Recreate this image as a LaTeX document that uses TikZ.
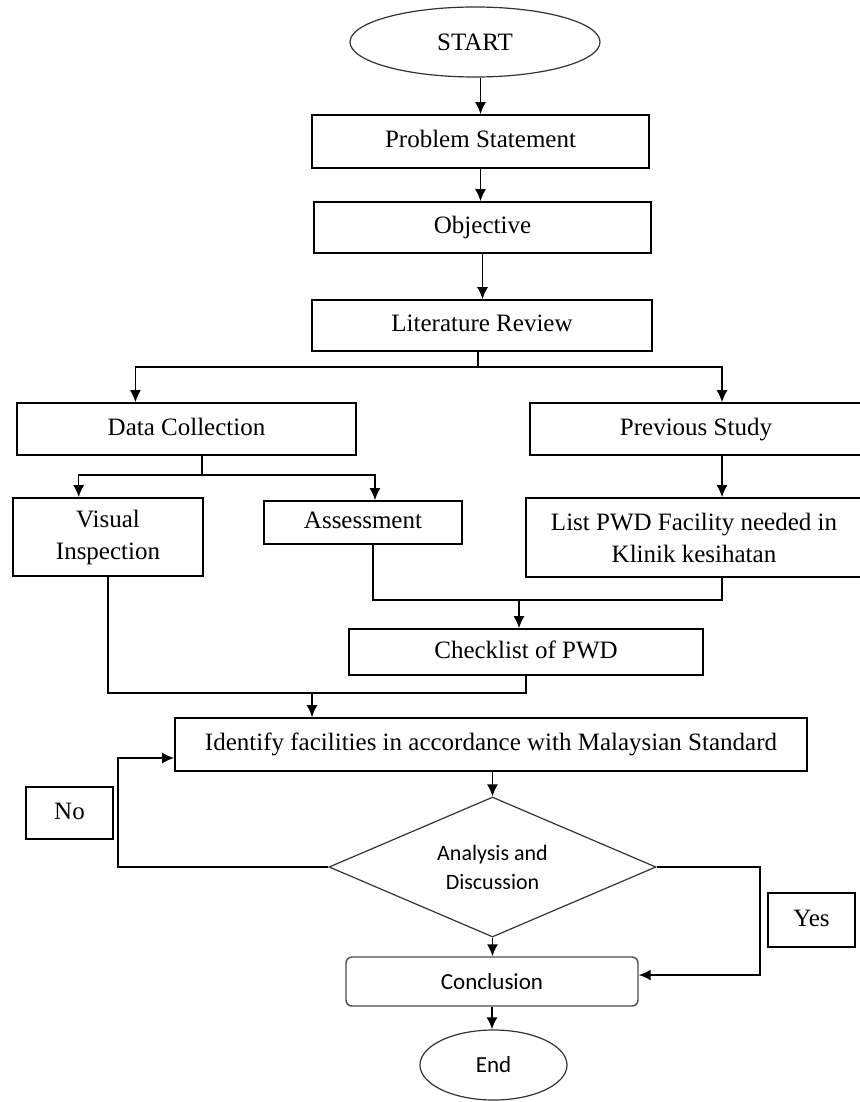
\documentclass[tikz,border=0pt]{standalone}
\usepackage{fontspec}
\setmainfont{Liberation Serif}
\newfontfamily\calibri{Carlito}
\usetikzlibrary{positioning}
\usetikzlibrary{arrows.meta}
\usetikzlibrary{shapes.geometric}
\usetikzlibrary{calc}
\tikzset{
  bloque/.style={
    rectangle, draw=black, line width=0.8pt,
    align=center, font=\fontsize{12.5}{16}\selectfont, inner sep=2pt
  },
  bloques/.style={bloque, execute at begin node=\strut},
  bloquer/.style={
    rectangle, rounded corners=3pt, draw=black!70, line width=0.7pt,
    align=center, font=\calibri\fontsize{11.5}{14}\selectfont, inner sep=2pt
  },
  ovalo/.style={
    ellipse, draw=black!80, line width=0.6pt,
    align=center, font=\fontsize{12.5}{16}\selectfont, inner sep=0pt
  },
  rombo/.style={
    diamond, aspect=2.3, draw=black!80, line width=0.6pt,
    align=center, font=\calibri\fontsize{11}{14.5}\selectfont, inner sep=0pt
  },
  flecha/.style={-{Latex[length=6pt,width=5.5pt]}, line width=0.8pt, draw=black},
  linea/.style={line width=0.8pt, draw=black}
}

\begin{document}
\begin{tikzpicture}[x=0.5pt, y=-0.5pt]
  \useasboundingbox (0,0) rectangle (860,1102);
  % main column
  \node[ovalo, minimum width=125pt, minimum height=35pt] (start) at (475,42) {START};
  \node[bloques, minimum width=168.5pt, minimum height=26.5pt] (problema) at (480.5,141.5) {Problem Statement};
  \node[bloques, minimum width=168.5pt, minimum height=25.5pt] (objetivo) at (482.5,227.5) {Objective};
  \node[bloques, minimum width=170pt, minimum height=25.5pt] (literatura) at (482,325.5) {Literature Review};
  % two branches
  \node[bloques, minimum width=169.5pt, minimum height=26pt] (datos) at (186.5,429) {Data Collection};
  \node[bloques, minimum width=166pt, minimum height=26pt] (previo) at (696,429) {Previous Study};
  \node[bloque, minimum width=95pt, minimum height=39pt] (visual) at (108,537) {Visual\\Inspection};
  \node[bloques, minimum width=99pt, minimum height=21.5pt] (evaluacion) at (363,522.5) {Assessment};
  \node[bloque, minimum width=168pt, minimum height=39.5pt] (lista) at (694,537.5) {List PWD Facility needed in\\Klinik kesihatan};
  \node[bloques, minimum width=177pt, minimum height=23pt] (checklist) at (526,652) {Checklist of PWD};
  % decision part
  \node[bloques, minimum width=316pt, minimum height=26.5pt] (identificar) at (491,744.5) {Identify facilities in accordance with Malaysian Standard};
  \node[rombo, minimum width=163.5pt, minimum height=70pt] (rombo) at (492.5,867) {Analysis and\\Discussion};
  \node[bloques, minimum width=43.5pt, minimum height=26pt] (no) at (69.5,813) {No};
  \node[bloques, minimum width=43.5pt, minimum height=27pt] (si) at (811.5,920) {Yes};
  \node[bloquer, minimum width=146pt, minimum height=24.5pt] (conclusion) at (492,981.5) {Conclusion};
  \node[ovalo, font=\calibri\fontsize{11.5}{14}\selectfont, minimum width=73.5pt, minimum height=35pt] (fin) at (493.5,1065) {End};

  \coordinate (rama1) at (478,367);
  \coordinate (rama2) at (202,475);
  \coordinate (union1) at (519,600);
  \coordinate (union2) at (312,693);
  \coordinate (vueltano) at (118,758);
  \coordinate (vueltasi) at (760,975);

  \draw[flecha] (problema.north |- start.south) -- (problema.north);
  \draw[flecha] (problema.south) -- (problema.south |- objetivo.north);
  \draw[flecha] (objetivo.south) -- (objetivo.south |- literatura.north);

  \draw[linea] (literatura.south -| rama1) -- (rama1);
  \draw[flecha] (rama1) -| ($(datos.north west)!0.35!(datos.north east)$);
  \draw[flecha] (rama1) -| ($(previo.north west)!0.578!(previo.north east)$);

  \draw[linea] (datos.south -| rama2) -- (rama2);
  \draw[flecha] (rama2) -| ($(visual.north west)!0.347!(visual.north east)$);
  \draw[flecha] (rama2) -| ($(evaluacion.north west)!0.56!(evaluacion.north east)$);
  \draw[flecha] ($(previo.south west)!0.578!(previo.south east)$) -- ($(lista.north west)!0.583!(lista.north east)$);

  \draw[linea] ($(evaluacion.south west)!0.55!(evaluacion.south east)$) |- (union1);
  \draw[linea] ($(lista.south west)!0.583!(lista.south east)$) |- (union1);
  \draw[flecha] (union1) -- (union1 |- checklist.north);

  \draw[linea] (visual.south) |- (union2);
  \draw[linea] (checklist.south) |- (union2);
  \draw[flecha] (union2) -- (union2 |- identificar.north);

  \draw[flecha] (rombo.north |- identificar.south) -- (rombo.north);
  \draw[flecha] (rombo.south) -- (rombo.south |- conclusion.north);
  \draw[flecha] (conclusion.south) -- (conclusion.south |- fin.north);

  \draw[flecha] (rombo.west) -| (vueltano) -- (vueltano -| identificar.west);
  \draw[flecha] (rombo.east) -| (vueltasi) -- (vueltasi -| conclusion.east);
\end{tikzpicture}
\end{document}
